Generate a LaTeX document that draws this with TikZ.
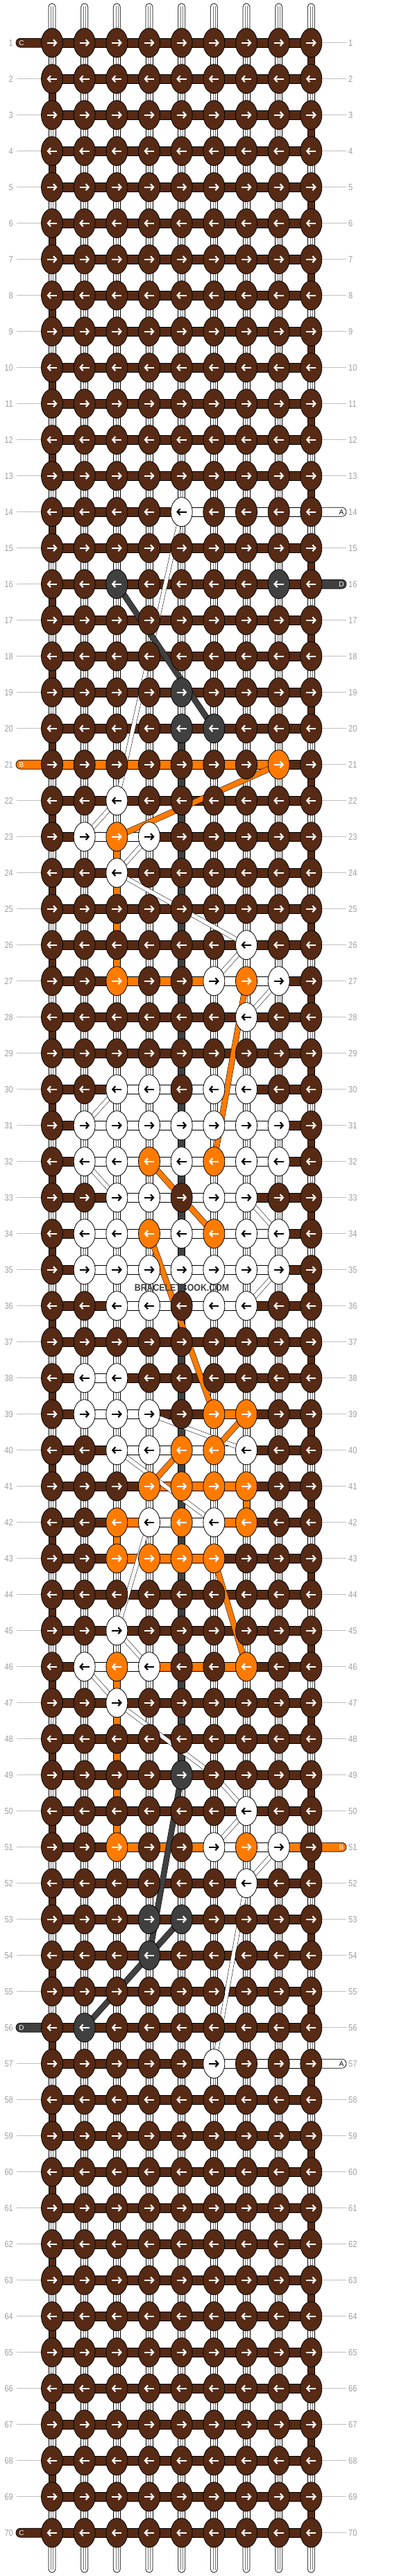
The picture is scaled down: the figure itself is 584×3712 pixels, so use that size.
\documentclass[tikz,border=0pt]{standalone}
\usepackage{fontspec}
\setmainfont{Liberation Sans}
\usetikzlibrary{shapes.geometric,arrows.meta}
\definecolor{cB}{HTML}{562A14}
\definecolor{cO}{HTML}{FF7B00}
\definecolor{cD}{HTML}{404040}
\definecolor{labc}{HTML}{A0A0A0}
\definecolor{glc}{HTML}{C0C0C0}
\pgfdeclarelayer{segs}
\pgfdeclarelayer{lines}
\pgfsetlayers{segs,lines,main}
\newcommand\defknots[2]{\expandafter\def\csname krow#1\endcsname{#2}}
\newcommand\defsegs[2]{\expandafter\def\csname srow#1\endcsname{#2}}
\defknots{14}{B,B,B,B,W,B,B,B,B}
\defknots{16}{B,B,D,B,B,B,B,D,B}
\defknots{19}{B,B,B,B,D,B,B,B,B}
\defknots{20}{B,B,B,B,D,D,B,B,B}
\defknots{21}{B,B,B,B,B,B,B,O,B}
\defknots{22}{B,B,W,B,B,B,B,B,B}
\defknots{23}{B,W,O,W,B,B,B,B,B}
\defknots{24}{B,B,W,B,B,B,B,B,B}
\defknots{26}{B,B,B,B,B,B,W,B,B}
\defknots{27}{B,B,O,B,B,W,O,W,B}
\defknots{28}{B,B,B,B,B,B,W,B,B}
\defknots{30}{B,B,W,W,B,W,W,B,B}
\defknots{31}{B,W,W,W,W,W,W,W,B}
\defknots{32}{B,W,W,O,W,O,W,W,B}
\defknots{33}{B,B,W,W,B,W,W,B,B}
\defknots{34}{B,W,W,O,W,O,W,W,B}
\defknots{35}{B,W,W,W,W,W,W,W,B}
\defknots{36}{B,B,W,W,B,W,W,B,B}
\defknots{38}{B,W,W,B,B,B,B,B,B}
\defknots{39}{B,W,W,W,B,O,O,B,B}
\defknots{40}{B,B,W,W,O,O,W,B,B}
\defknots{41}{B,B,B,O,O,O,O,B,B}
\defknots{42}{B,B,O,W,O,W,O,B,B}
\defknots{43}{B,B,O,O,O,O,B,B,B}
\defknots{45}{B,B,W,B,B,B,B,B,B}
\defknots{46}{B,W,O,W,B,B,O,B,B}
\defknots{47}{B,B,W,B,B,B,B,B,B}
\defknots{49}{B,B,B,B,D,B,B,B,B}
\defknots{50}{B,B,B,B,B,B,W,B,B}
\defknots{51}{B,B,O,B,B,W,O,W,B}
\defknots{52}{B,B,B,B,B,B,W,B,B}
\defknots{53}{B,B,B,D,D,B,B,B,B}
\defknots{54}{B,B,B,D,B,B,B,B,B}
\defknots{56}{B,D,B,B,B,B,B,B,B}
\defknots{57}{B,B,B,B,B,W,B,B,B}
\defsegs{14}{B,B,B,B,W,W,W,W}
\defsegs{21}{O,O,O,O,O,O,O,B}
\defsegs{23}{B,W,W,B,B,B,B,B}
\defsegs{27}{B,B,O,O,O,W,W,B}
\defsegs{30}{B,B,W,W,W,W,B,B}
\defsegs{31}{B,W,W,W,W,W,W,B}
\defsegs{32}{B,W,W,W,W,W,W,B}
\defsegs{33}{B,B,W,W,W,W,B,B}
\defsegs{34}{B,W,W,W,W,W,W,B}
\defsegs{35}{B,W,W,W,W,W,W,B}
\defsegs{36}{B,B,W,W,W,W,B,B}
\defsegs{38}{B,W,B,B,B,B,B,B}
\defsegs{39}{B,W,W,B,B,O,B,B}
\defsegs{40}{B,B,W,W,W,W,B,B}
\defsegs{41}{B,B,B,O,O,O,B,B}
\defsegs{42}{B,B,O,W,W,O,B,B}
\defsegs{43}{B,B,O,O,O,B,B,B}
\defsegs{46}{B,W,W,O,O,O,B,B}
\defsegs{51}{B,B,O,O,O,W,W,O}
\defsegs{57}{B,B,B,B,B,W,W,W}
\begin{document}
\begin{tikzpicture}[x=1pt,y=-1pt,
  knot/.style={ellipse,draw=black,line width=0.8pt,minimum width=31pt,minimum height=42pt,inner sep=0pt},
  knotB/.style={knot,fill=cB}, knotW/.style={knot,fill=white},
  knotO/.style={knot,fill=cO}, knotD/.style={knot,fill=cD},
  arrbase/.style={line width=2.2pt,-{Straight Barb[length=4pt,width=9pt]}},
  arrB/.style={arrbase,draw=white}, arrO/.style={arrbase,draw=white},
  arrD/.style={arrbase,draw=white}, arrW/.style={arrbase,draw=black},
  bar/.style={draw=black,line width=0.7pt},
  segB/.style={bar,fill=cB}, segW/.style={bar,fill=white},
  segO/.style={bar,fill=cO}, segD/.style={bar,fill=cD},
  inner/.style={draw=black!55,line width=0.4pt},
  thinpair/.style={draw=black,line width=0.5pt,double=white,double distance=5.5pt},
  thickO/.style={draw=black,line width=0.5pt,double=cO,double distance=7.5pt},
  thickD/.style={draw=black,line width=0.5pt,double=cD,double distance=7.5pt},
  lbl/.style={text=labc,font=\fontsize{13}{13}\selectfont,xscale=0.85,inner sep=0pt},
  gline/.style={draw=glc,line width=0.8pt},
  capB/.style={bar,fill=cB,rounded corners=6.5pt}, capO/.style={bar,fill=cO,rounded corners=6.5pt},
  capD/.style={bar,fill=cD,rounded corners=6.5pt}, capW/.style={bar,fill=white,rounded corners=6.5pt},
  captxt/.style={font=\fontsize{10}{10}\selectfont,inner sep=0pt,text=white},
  captxtW/.style={captxt,text=black}, captxtB/.style={captxt}, captxtO/.style={captxt}, captxtD/.style={captxt}
]
\useasboundingbox (0,0) rectangle (584,3712);
% knots and arrows
\foreach \r in {1,...,70}{
  \ifcsname krow\r\endcsname \edef\klist{\csname krow\r\endcsname}\else \def\klist{B,B,B,B,B,B,B,B,B}\fi
  \pgfmathsetmacro\yy{61.7+(\r-1)*52}
  \foreach \kc [count=\c] in \klist {
    \pgfmathsetmacro\xx{75+(\c-1)*46.667}
    \node[knot\kc] (k-\r-\c) at (\xx,\yy) {};
    \ifodd\r\relax
      \draw[arr\kc] (\xx-7,\yy) -- (\xx+7.5,\yy);
    \else
      \draw[arr\kc] (\xx+7,\yy) -- (\xx-7.5,\yy);
    \fi
  }
  \node[lbl,anchor=east] (ll-\r) at (19,\yy) {\r};
  \node[lbl,anchor=west] (lr-\r) at (502,\yy) {\r};
}
\begin{pgfonlayer}{segs}
\fill[white] (0,0) rectangle (584,3712);
% top and bottom strings
\foreach \c in {1,...,9}{
  \pgfmathsetmacro\xx{75+(\c-1)*46.667}
  \draw[segW,rounded corners=5pt] (\xx-5,48) -- (\xx-5,5) -- (\xx+5,5) -- (\xx+5,48);
  \draw[inner] (\xx-1.6,9) -- (\xx-1.6,48) (\xx+1.6,9) -- (\xx+1.6,48);
  \draw[segW,rounded corners=5pt] (\xx-5,3664) -- (\xx-5,3707) -- (\xx+5,3707) -- (\xx+5,3664);
  \draw[inner] (\xx-1.6,3664) -- (\xx-1.6,3703) (\xx+1.6,3664) -- (\xx+1.6,3703);
}
% vertical strips
\foreach \r in {1,...,69}{
  \pgfmathsetmacro\yy{61.7+(\r-1)*52}
  \foreach \c in {1,...,9}{
    \pgfmathsetmacro\xx{75+(\c-1)*46.667}
    \def\vs{W}%
    \ifodd\r\relax \ifnum\c=9 \def\vs{B}\fi \else \ifnum\c=1 \def\vs{B}\fi \fi
    \ifnum\c=5 \ifnum\r>19 \ifnum\r<49 \def\vs{D}\fi\fi\fi
    \ifnum\c=3
      \ifnum\r>22 \ifnum\r<27 \def\vs{O}\fi\fi
      \ifnum\r=42 \def\vs{O}\fi
      \ifnum\r>45 \ifnum\r<51 \def\vs{O}\fi\fi
    \fi
    \ifnum\c=7 \ifnum\r=41 \def\vs{O}\fi\fi
    \draw[seg\vs] (\xx-5,\yy+16) rectangle (\xx+5,\yy+36);
    \if\vs W\draw[inner] (\xx-1.6,\yy+16) -- (\xx-1.6,\yy+36) (\xx+1.6,\yy+16) -- (\xx+1.6,\yy+36);\fi
  }
}
% horizontal segments and label lines
\foreach \r in {1,...,70}{
  \ifcsname srow\r\endcsname \edef\slist{\csname srow\r\endcsname}\else \def\slist{B,B,B,B,B,B,B,B}\fi
  \pgfmathsetmacro\yy{61.7+(\r-1)*52}
  \foreach \sc [count=\c] in \slist {
    \pgfmathsetmacro\xa{75+(\c-1)*46.667+12}
    \pgfmathsetmacro\xb{75+\c*46.667-12}
    \draw[seg\sc] (\xa,\yy-6.5) rectangle (\xb,\yy+6.5);
  }
  \draw[gline] (24,\yy) -- (k-\r-1.west);
  \draw[gline] (k-\r-9.east) -- (499,\yy);
}
% end caps
\foreach \r/\cl/\lt in {1/B/C,21/O/B,56/D/D,70/B/C}{
  \pgfmathsetmacro\yy{61.7+(\r-1)*52}
  \draw[cap\cl] (64,\yy-6.5) -- (23,\yy-6.5) -- (23,\yy+6.5) -- (64,\yy+6.5);
}
\foreach \r/\cl/\lt in {14/W/A,16/D/D,51/O/B,57/W/A}{
  \pgfmathsetmacro\yy{61.7+(\r-1)*52}
  \draw[cap\cl] (459,\yy-6.5) -- (499,\yy-6.5) -- (499,\yy+6.5) -- (459,\yy+6.5);
}
\end{pgfonlayer}
\foreach \r/\cl/\lt in {1/B/C,21/O/B,56/D/D,70/B/C}{
  \pgfmathsetmacro\yy{61.7+(\r-1)*52}
  \node[captxt\cl] (cl-\r) at (31,\yy) {\lt};
}
\foreach \r/\cl/\lt in {14/W/A,16/D/D,51/O/B,57/W/A}{
  \pgfmathsetmacro\yy{61.7+(\r-1)*52}
  \node[captxt\cl] (cr-\r) at (492,\yy) {\lt};
}
\begin{pgfonlayer}{lines}
% thin white carried threads
\foreach \ra/\ca/\rb/\cb in {14/5/22/3,22/3/23/2,23/4/24/3,24/3/26/7,26/7/27/6,27/8/28/7,
  30/3/31/2,32/2/33/3,33/7/34/8,35/8/36/7,39/4/40/7,40/3/42/6,42/4/45/3,45/3/46/4,
  46/2/47/3,47/3/49/6,49/6/50/7,50/7/51/6,51/8/52/7,52/7/57/6}{
  \draw[thinpair] (k-\ra-\ca.center) -- (k-\rb-\cb.center);
}
% thick orange threads
\foreach \ra/\ca/\rb/\cb in {21/8/23/3,27/7/32/6,32/4/34/6,34/4/39/6,39/7/40/6,40/5/41/4,43/6/46/7}{
  \draw[thickO] (k-\ra-\ca.center) -- (k-\rb-\cb.center);
}
% thick dark threads
\foreach \ra/\ca/\rb/\cb in {16/3/20/6,49/5/54/4,53/5/56/2}{
  \draw[thickD] (k-\ra-\ca.center) -- (k-\rb-\cb.center);
}
\end{pgfonlayer}
\node[font=\bfseries\fontsize{14}{14}\selectfont,text=cD,xscale=0.88,inner sep=0pt] (wm) at (262,1856) {BRACELETBOOK.COM};
\end{tikzpicture}
\end{document}
